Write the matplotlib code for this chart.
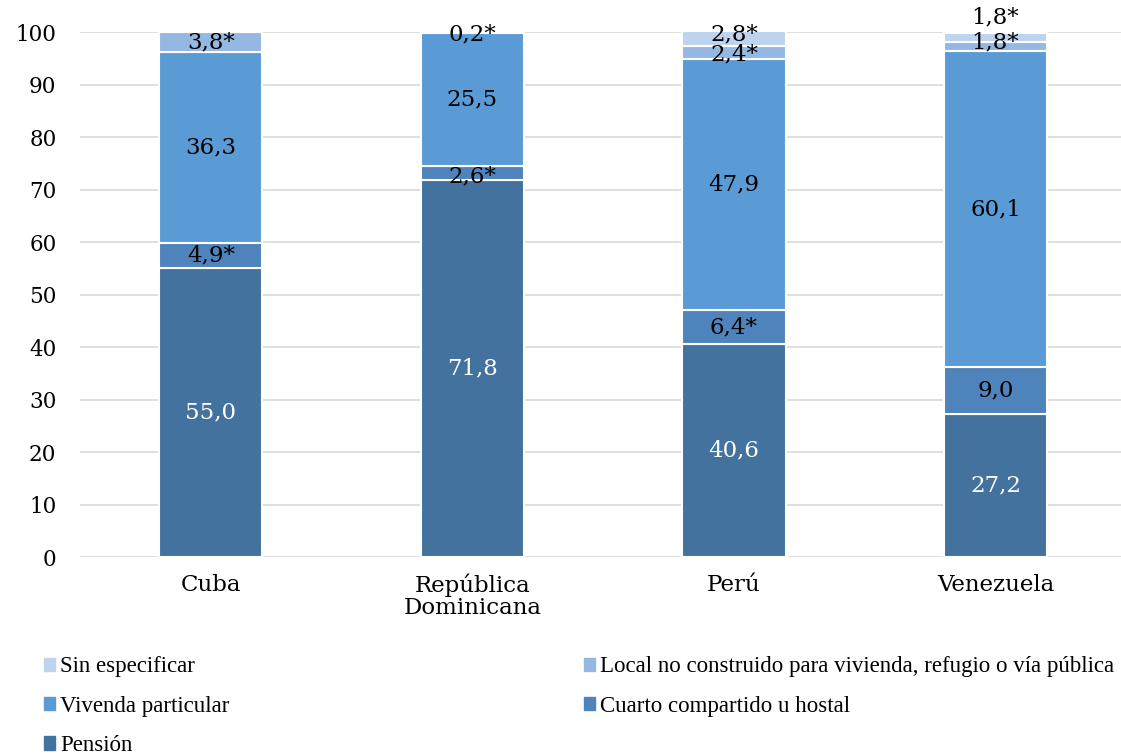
import matplotlib
matplotlib.use("Agg")
import matplotlib.pyplot as plt
import numpy as np
from matplotlib.patches import Patch

paises = ["Cuba", "República\nDominicana", "Perú", "Venezuela"]

series = ["Pensión", "Cuarto compartido u hostal", "Vivenda particular",
          "Local no construido para vivienda, refugio o vía pública", "Sin especificar"]

pension = [55.0, 71.8, 40.6, 27.2]
cuarto = [4.9, 2.6, 6.4, 9.0]
vivienda = [36.3, 25.5, 47.9, 60.1]
local = [3.8, 0.2, 2.4, 1.8]
sin_esp = [0.0, 0.0, 2.8, 1.8]

etiquetas = [
    ["55,0", "71,8", "40,6", "27,2"],
    ["4,9*", "2,6*", "6,4*", "9,0"],
    ["36,3", "25,5", "47,9", "60,1"],
    ["3,8*", "0,2*", "2,4*", "1,8*"],
    ["", "", "2,8*", "1,8*"],
]

colores = ["#43729e", "#4f83bb", "#5b9bd5", "#94b8e2", "#bed4ee"]
col_texto = ["white", "black", "black", "black", "black"]
# desplazamiento vertical de etiquetas pequeñas (en unidades de datos)
ajuste = [
    [0, 0, 0, 0],
    [0, -0.6, 0, 0],
    [0, 0, 0, 0],
    [0, -0.5, -0.4, 0.9],
    [0, 0, 0.8, 3.7],
]

serif = "DejaVu Serif"
fig = plt.figure(figsize=(11.21, 7.55), dpi=100)
ax = fig.add_axes([80 / 1121, 198 / 755, 1 - 80 / 1121, 525 / 755])

x = np.arange(len(paises))
datos = [pension, cuarto, vivienda, local, sin_esp]
base = np.zeros(len(paises))
for i, vals in enumerate(datos):
    vals = np.array(vals)
    ax.bar(x, vals, 0.395, bottom=base, color=colores[i],
           edgecolor="white", linewidth=1.5, zorder=3)
    for j in range(len(paises)):
        if etiquetas[i][j]:
            ax.text(x[j], base[j] + vals[j] / 2 + ajuste[i][j], etiquetas[i][j],
                    ha="center", va="center", fontsize=16.5, family=serif,
                    color=col_texto[i], zorder=4)
    base = base + vals

ax.set_xlim(-0.5, 3.48)
ax.set_ylim(0, 100)
ax.set_yticks(range(0, 101, 10))
ax.set_xticks(x)
ax.set_xticklabels(paises, family=serif, fontsize=16.5, linespacing=1.0)
for lab in ax.get_yticklabels():
    lab.set_family(serif)
    lab.set_fontsize(15.5)
ax.tick_params(length=0)
ax.tick_params(axis="y", pad=17)
ax.tick_params(axis="x", pad=12)
ax.grid(axis="y", color="#d9d9d9", linewidth=1.2, zorder=0)
for s in ax.spines.values():
    s.set_visible(False)

handles = [Patch(color=c) for c in colores]
leg_kw = dict(frameon=False, handlelength=0.45, handleheight=0.5,
              handletextpad=0.25, labelspacing=0.8, borderpad=0,
              prop={"family": "Liberation Serif", "size": 16.5})
fig.legend([handles[4], handles[2], handles[0]], [series[4], series[2], series[0]],
           loc="upper left", bbox_to_anchor=(33 / 1121, 1 - 645 / 755), **leg_kw)
fig.legend([handles[3], handles[1]], [series[3], series[1]],
           loc="upper left", bbox_to_anchor=(573 / 1121, 1 - 645 / 755), **leg_kw)

fig.savefig("out.png", dpi=100)
